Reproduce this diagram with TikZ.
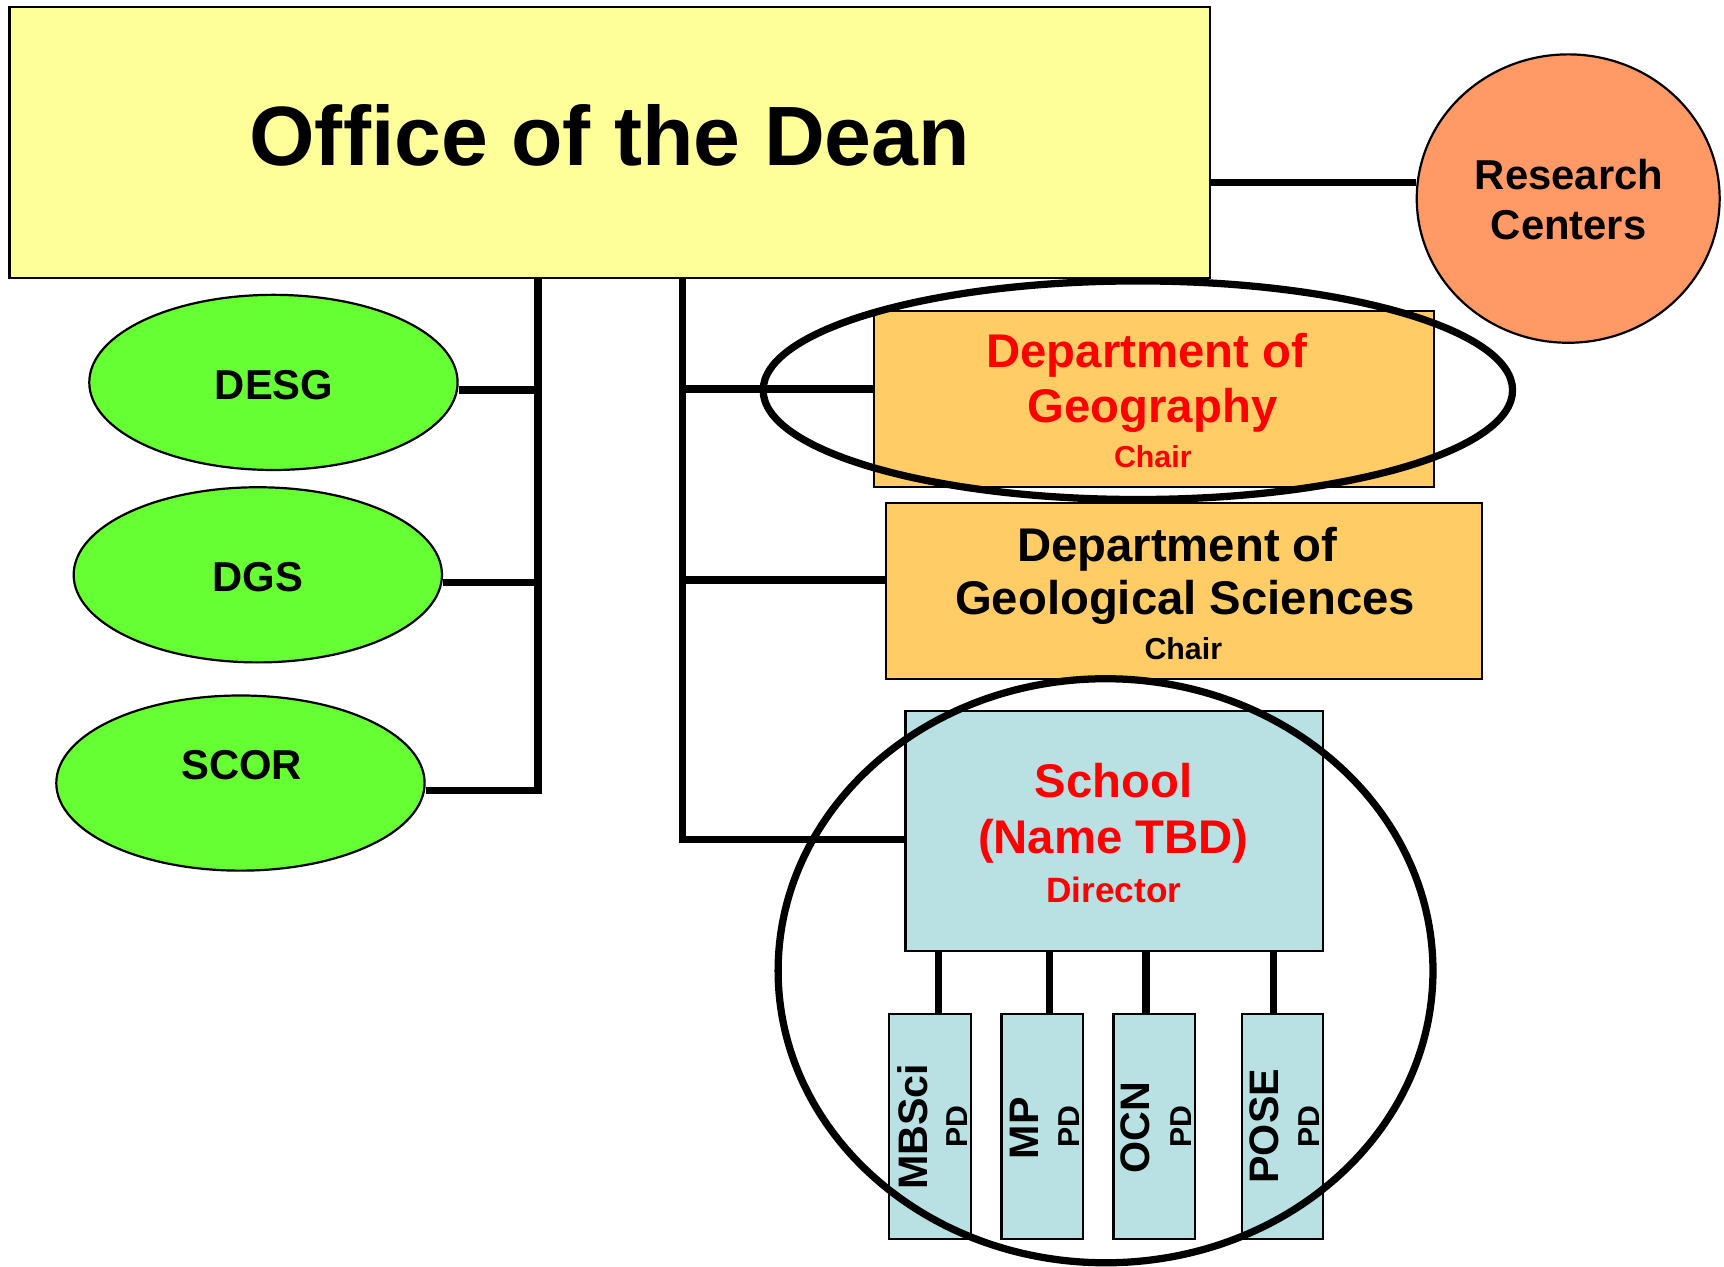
\documentclass[tikz,border=0pt]{standalone}
\usepackage{fontspec}
\setmainfont{Liberation Sans}
\usetikzlibrary{shapes.geometric}
\definecolor{deanyellow}{RGB}{255,255,153}
\definecolor{rcorange}{RGB}{255,153,102}
\definecolor{lgreen}{RGB}{102,255,51}
\definecolor{deptorange}{RGB}{255,204,102}
\definecolor{schoolblue}{RGB}{185,224,227}
\definecolor{tred}{RGB}{255,0,0}
\pgfdeclarelayer{bg}
\pgfsetlayers{bg,main}
\tikzset{
  conn/.style={line width=3.3pt, line cap=butt},
  boxs/.style={rectangle, draw=black, line width=1pt, inner sep=0pt},
  oval/.style={ellipse, draw=black, line width=1pt, inner sep=0pt},
  ring/.style={ellipse, draw=black, line width=3.3pt, inner sep=0pt},
  txt/.style={anchor=base, inner sep=0pt},
  fdean/.style={font=\bfseries\fontsize{38.3}{46}\selectfont},
  fmid/.style={font=\bfseries\fontsize{19}{23}\selectfont},
  fdept/.style={font=\bfseries\fontsize{21.5}{26}\selectfont},
  fsmall/.style={font=\bfseries\fontsize{13.8}{16}\selectfont},
  fdir/.style={font=\bfseries\fontsize{16}{19}\selectfont},
  fprog/.style={font=\bfseries\fontsize{18.75}{22}\selectfont},
  fpd/.style={font=\bfseries\fontsize{13.75}{16}\selectfont},
}
\begin{document}
\begin{tikzpicture}[x=0.5pt, y=-0.5pt]
\useasboundingbox (0,0) rectangle (1568,1152);

% ---------- boxes and ovals ----------
\node[boxs, fill=deanyellow, minimum width=546pt, minimum height=123.2pt] (dean) at (554.65,129.9) {};
\node[txt, fdean] (deant) at (554.6,150.7) {Office of the Dean};

\node[oval, fill=rcorange, minimum width=137.75pt, minimum height=131.15pt] (rc) at (1426.3,180.6) {};
\node[txt, fmid] (rct1) at (1427,172.2) {Research};
\node[txt, fmid] (rct2) at (1426.7,217.7) {Centers};

\node[oval, fill=lgreen, minimum width=167.5pt, minimum height=79.65pt] (desg) at (248.7,347.8) {};
\node[txt, fmid] (desgt) at (249.3,363.2) {DESG};
\node[oval, fill=lgreen, minimum width=167.5pt, minimum height=79.65pt] (dgs) at (234.5,522.8) {};
\node[txt, fmid] (dgst) at (234.5,537.8) {DGS};
\node[oval, fill=lgreen, minimum width=167.5pt, minimum height=79.65pt] (scor) at (218.7,712.2) {};
\node[txt, fmid] (scort) at (219.7,709.4) {SCOR};

\node[boxs, fill=deptorange, minimum width=254.7pt, minimum height=80.3pt] (geo) at (1049.7,362.9) {};
\node[txt, fdept, text=tred] (geot1) at (1042.9,334.5) {Department of};
\node[txt, fdept, text=tred] (geot2) at (1048.2,384.5) {Geography};
\node[txt, fsmall, text=tred] (geot3) at (1048.5,425.2) {Chair};

\node[boxs, fill=deptorange, minimum width=271pt, minimum height=80.3pt] (geol) at (1077.1,537.5) {};
\node[txt, fdept] (geolt1) at (1070.8,510.8) {Department of};
\node[txt, fdept] (geolt2) at (1077.8,559) {Geological Sciences};
\node[txt, fsmall] (geolt3) at (1076.2,599.5) {Chair};

\node[boxs, fill=schoolblue, minimum width=189.8pt, minimum height=109.15pt] (school) at (1013.3,755.95) {};
\node[txt, fdept, text=tred] (scht1) at (1012.6,725.2) {School};
\node[txt, fdept, text=tred] (scht2) at (1012.6,776.1) {(Name TBD)};
\node[txt, fdir, text=tred] (scht3) at (1013,821) {Director};

\node[boxs, fill=schoolblue, minimum width=37pt, minimum height=102.35pt] (mbsci) at (845.8,1024.85) {};
\node[boxs, fill=schoolblue, minimum width=37pt, minimum height=102.35pt] (mp) at (947.85,1024.85) {};
\node[boxs, fill=schoolblue, minimum width=37pt, minimum height=102.35pt] (ocn) at (1049.75,1024.85) {};
\node[boxs, fill=schoolblue, minimum width=37pt, minimum height=102.35pt] (pose) at (1166.45,1024.85) {};

\node[txt, fprog, rotate=90] (mbscit) at (843.4,1024.7) {MBSci};
\node[txt, fpd, rotate=90] (mbscipd) at (879.8,1024.4) {PD};
\node[txt, fprog, rotate=90] (mpt) at (944.4,1026.2) {MP};
\node[txt, fpd, rotate=90] (mppd) at (981.7,1024.4) {PD};
\node[txt, fprog, rotate=90] (ocnt) at (1045.9,1025.5) {OCN};
\node[txt, fpd, rotate=90] (ocnpd) at (1083.8,1024.4) {PD};
\node[txt, fprog, rotate=90] (poset) at (1162.6,1024.3) {POSE};
\node[txt, fpd, rotate=90] (posepd) at (1199.9,1024.4) {PD};

% ---------- connectors ----------
\coordinate (lbus) at (489.3,0);
\coordinate (rbus) at (620.4,0);
\coordinate (rcj) at ([yshift=7.25pt]rc.west);
\coordinate (desgj) at ([yshift=-3.5pt]desg.east);
\coordinate (dgsj) at ([yshift=-3.5pt]dgs.east);
\coordinate (scorj) at ([yshift=-3.5pt]scor.east);
\coordinate (geoj) at ([yshift=4.6pt]geo.west);
\coordinate (geolj) at ([yshift=4.95pt]geol.west);
\coordinate (schj) at ([yshift=-3.65pt]school.west);
\coordinate (mbscij) at ([xshift=3.8pt]mbsci.north);
\coordinate (mpj) at ([xshift=3.4pt]mp.north);
\coordinate (ocnj) at ([xshift=-3.75pt]ocn.north);
\coordinate (posej) at ([xshift=-4.05pt]pose.north);

\begin{pgfonlayer}{bg}
\draw[conn] (rcj -| dean.east) -- (rcj);
\draw[conn] (dean.south -| lbus) |- (scorj);
\draw[conn] (desgj) -- (desgj -| lbus);
\draw[conn] (dgsj) -- (dgsj -| lbus);
\draw[conn] (dean.south -| rbus) |- (schj);
\draw[conn] (geoj -| rbus) -- (geoj);
\draw[conn] (geolj -| rbus) -- (geolj);
\draw[conn] (mbscij) -- (mbscij |- school.south);
\draw[conn] (mpj) -- (mpj |- school.south);
\draw[conn] (ocnj) -- (ocnj |- school.south);
\draw[conn] (posej) -- (posej |- school.south);
\end{pgfonlayer}

% ---------- highlight rings ----------
\node[ring, minimum width=340.8pt, minimum height=99.4pt] (georing) at (1034.9,354.9) {};
\node[ring, minimum width=297.8pt, minimum height=265.6pt] (schring) at (1005.5,882.9) {};
\end{tikzpicture}
\end{document}
